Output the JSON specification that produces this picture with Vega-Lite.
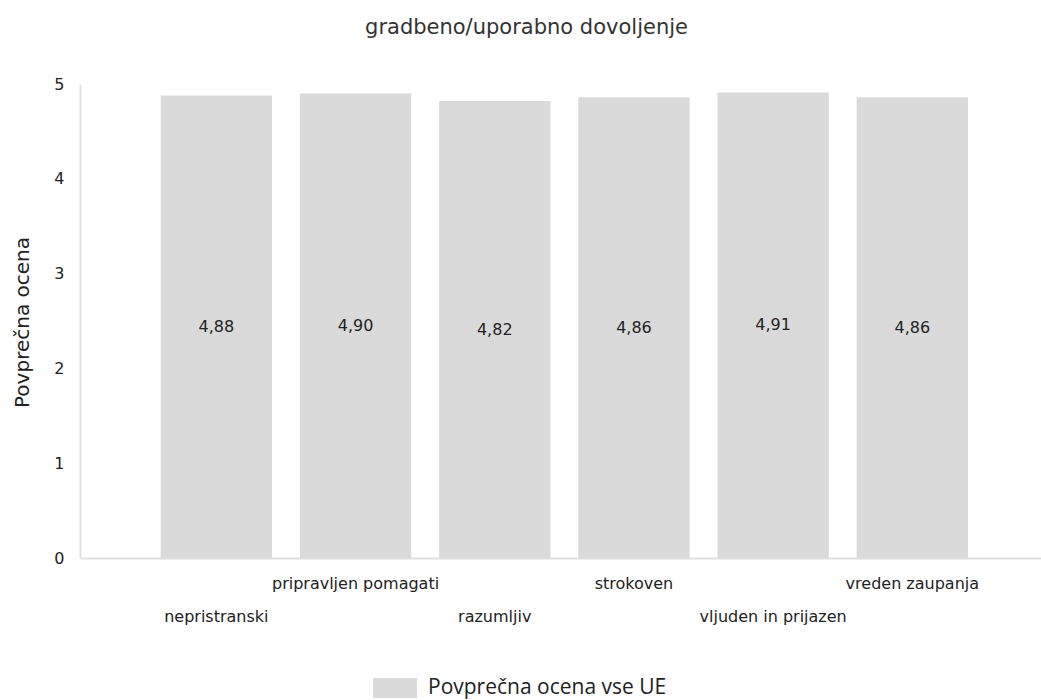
{
  "$schema": "https://vega.github.io/schema/vega-lite/v6.json",
  "width": 961,
  "height": 474,
  "autosize": {"type": "none"},
  "padding": {"left": 80, "top": 84, "right": 0, "bottom": 142},
  "background": "white",
  "config": {
    "view": {"stroke": null},
    "locale": {"number": {"decimal": ",", "thousands": ".", "grouping": [3], "currency": ["", " €"]}},
    "font": "DejaVu Sans"
  },
  "title": {
    "text": "gradbeno/uporabno dovoljenje",
    "font": "DejaVu Sans",
    "fontSize": 21,
    "fontWeight": "normal",
    "color": "#333333",
    "anchor": "middle",
    "dx": -34,
    "offset": 21,
    "baseline": "alphabetic"
  },
  "data": {
    "values": [
      {"kategorija": "nepristranski", "ocena": 4.88, "serija": "Povprečna ocena vse UE"},
      {"kategorija": "pripravljen pomagati", "ocena": 4.90, "serija": "Povprečna ocena vse UE"},
      {"kategorija": "razumljiv", "ocena": 4.82, "serija": "Povprečna ocena vse UE"},
      {"kategorija": "strokoven", "ocena": 4.86, "serija": "Povprečna ocena vse UE"},
      {"kategorija": "vljuden in prijazen", "ocena": 4.91, "serija": "Povprečna ocena vse UE"},
      {"kategorija": "vreden zaupanja", "ocena": 4.86, "serija": "Povprečna ocena vse UE"}
    ]
  },
  "encoding": {
    "x": {
      "field": "kategorija",
      "type": "nominal",
      "sort": null,
      "scale": {"paddingInner": 0.2, "paddingOuter": 0.552, "align": 0.525},
      "axis": {
        "title": null,
        "labelAngle": 0,
        "ticks": false,
        "domainColor": "#e0e0e0",
        "domainWidth": 2,
        "labelFont": "DejaVu Sans",
        "labelFontSize": 16,
        "labelColor": "#222222",
        "labelPadding": 17,
        "labelLimit": 0,
        "labelLineHeight": 33,
        "labelBaseline": "top",
        "labelExpr": "indexof(['pripravljen pomagati','strokoven','vreden zaupanja'], datum.value) >= 0 ? datum.label : ['', datum.label]"
      }
    }
  },
  "layer": [
    {
      "mark": {"type": "bar"},
      "encoding": {
        "y": {
          "field": "ocena",
          "type": "quantitative",
          "scale": {"domain": [0, 5], "nice": false},
          "axis": {
            "values": [0, 1, 2, 3, 4, 5],
            "title": "Povprečna ocena",
            "grid": false,
            "ticks": false,
            "domainColor": "#e0e0e0",
            "domainWidth": 2,
            "labelFont": "DejaVu Sans",
            "labelFontSize": 16,
            "labelColor": "#222222",
            "labelPadding": 16,
            "titleFont": "DejaVu Sans",
            "titleFontSize": 20,
            "titleFontWeight": "normal",
            "titleColor": "#222222",
            "titleX": -58,
            "titleY": 238,
            "titleAngle": 270,
            "titleBaseline": "middle",
            "titleAlign": "center"
          }
        },
        "color": {
          "field": "serija",
          "type": "nominal",
          "scale": {"range": ["#dadada"]},
          "legend": {
            "title": null,
            "orient": "none",
            "legendX": 293,
            "legendY": 582,
            "symbolType": "M-1,-0.45H1V0.45H-1Z",
            "symbolSize": 1936,
            "symbolStrokeWidth": 0,
            "symbolOpacity": 1,
            "labelFont": "Open Sans",
            "labelFontSize": 21,
            "labelColor": "#222222",
            "labelOffset": 11,
            "padding": 0,
            "labelLimit": 0
          }
        }
      }
    },
    {
      "mark": {"type": "text", "font": "DejaVu Sans", "fontSize": 16, "color": "#222222", "baseline": "middle", "align": "center"},
      "encoding": {
        "y": {"field": "ocena", "type": "quantitative", "scale": {"domain": [0, 10], "nice": false}, "axis": null},
        "text": {"field": "ocena", "type": "quantitative", "format": ".2f"}
      }
    }
  ],
  "resolve": {"scale": {"y": "independent"}}
}
